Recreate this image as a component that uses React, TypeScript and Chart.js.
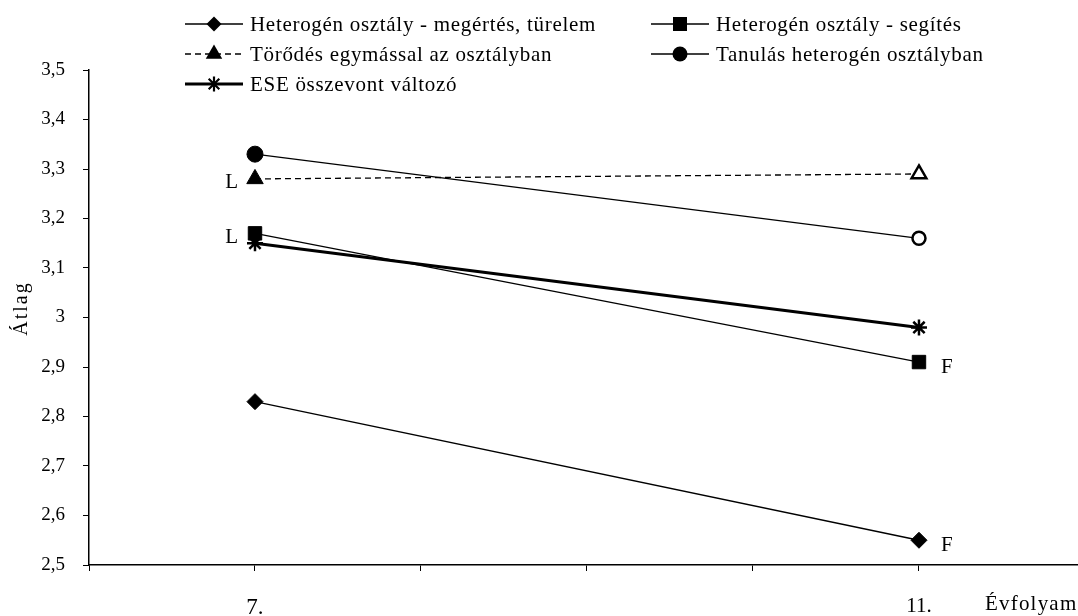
import React, { useEffect, useRef } from "react";
import { Chart, registerables } from "chart.js";

Chart.register(...registerables);

// ---- data ----
const grades = [7, 11];
const gradeLabels: Record<number, string> = { 7: "7.", 11: "11." };
const seriesNames = [
  "Heterogén osztály - megértés, türelem",
  "Heterogén osztály - segítés",
  "Törődés egymással az osztályban",
  "Tanulás heterogén osztályban",
  "ESE összevont változó",
];
const megertes = [2.83, 2.55];
const segites = [3.17, 2.91];
const torodes = [3.28, 3.29];
const tanulas = [3.33, 3.16];
const ese = [3.15, 2.98];
const noteSeries = [2, 1, 1, 0];
const noteIndex = [0, 0, 1, 1];
const noteText = ["L", "L", "F", "F"];
const yAxisTitle = "Átlag";
const xAxisTitle = "Évfolyam";

const FONT = "'Liberation Serif', 'Times New Roman', serif";

const toPoints = (arr: number[]) => grades.map((g, i) => ({ x: g, y: arr[i] }));

type Marker = "diamond" | "square" | "triangle" | "circle" | "star";

function drawMarker(ctx: CanvasRenderingContext2D, kind: Marker, x: number, y: number) {
  ctx.save();
  ctx.fillStyle = "#000";
  ctx.strokeStyle = "#000";
  ctx.beginPath();
  if (kind === "diamond") {
    const r = 7.5;
    ctx.moveTo(x, y - r);
    ctx.lineTo(x + r, y);
    ctx.lineTo(x, y + r);
    ctx.lineTo(x - r, y);
    ctx.closePath();
    ctx.fill();
  } else if (kind === "square") {
    ctx.rect(x - 7, y - 7, 14, 14);
    ctx.fill();
  } else if (kind === "triangle") {
    const r = 9.5;
    ctx.moveTo(x, y - r);
    ctx.lineTo(x + r * 0.866, y + r * 0.5);
    ctx.lineTo(x - r * 0.866, y + r * 0.5);
    ctx.closePath();
    ctx.fill();
  } else if (kind === "circle") {
    ctx.arc(x, y, 7.5, 0, Math.PI * 2);
    ctx.fill();
  } else {
    const r = 7.5;
    ctx.lineWidth = 2.2;
    ctx.moveTo(x - r, y);
    ctx.lineTo(x + r, y);
    ctx.moveTo(x, y - r);
    ctx.lineTo(x, y + r);
    const d = r * 0.707;
    ctx.moveTo(x - d, y - d);
    ctx.lineTo(x + d, y + d);
    ctx.moveTo(x - d, y + d);
    ctx.lineTo(x + d, y - d);
    ctx.stroke();
  }
  ctx.restore();
}

const legendItems: { name: string; marker: Marker; dash: number[]; width: number; col: number; row: number }[] = [
  { name: seriesNames[0], marker: "diamond", dash: [], width: 1.3, col: 0, row: 0 },
  { name: seriesNames[1], marker: "square", dash: [], width: 1.3, col: 1, row: 0 },
  { name: seriesNames[2], marker: "triangle", dash: [6, 4], width: 1.3, col: 0, row: 1 },
  { name: seriesNames[3], marker: "circle", dash: [], width: 1.3, col: 1, row: 1 },
  { name: seriesNames[4], marker: "star", dash: [], width: 3, col: 0, row: 2 },
];

const legendPlugin = {
  id: "customLegend",
  afterDraw(chart: any) {
    const ctx: any = chart.ctx;
    const colX = [185, 651];
    const rowY = [24, 54, 84];
    legendItems.forEach((it) => {
      const x0 = colX[it.col];
      const y = rowY[it.row];
      ctx.save();
      ctx.strokeStyle = "#000";
      ctx.lineWidth = it.width;
      ctx.setLineDash(it.dash);
      ctx.beginPath();
      ctx.moveTo(x0, y);
      ctx.lineTo(x0 + 58, y);
      ctx.stroke();
      ctx.setLineDash([]);
      ctx.restore();
      drawMarker(ctx, it.marker, x0 + 29, y);
      ctx.save();
      ctx.fillStyle = "#000";
      ctx.font = `21px ${FONT}`;
      ctx.letterSpacing = "0.7px";
      ctx.textBaseline = "middle";
      ctx.textAlign = "left";
      ctx.fillText(it.name, x0 + 65, y + 1);
      ctx.letterSpacing = "0px";
      ctx.restore();
    });
  },
};

const notesPlugin = {
  id: "notes",
  afterDatasetsDraw(chart: any) {
    const ctx: any = chart.ctx;
    const xs = chart.scales.x;
    const ys = chart.scales.y;
    const area = chart.chartArea;
    ctx.save();
    ctx.fillStyle = "#000";
    ctx.font = `21px ${FONT}`;
    ctx.textBaseline = "middle";
    noteText.forEach((t, k) => {
      const ds = chart.data.datasets[noteSeries[k]];
      const p = ds.data[noteIndex[k]];
      const px = xs.getPixelForValue(p.x);
      const py = ys.getPixelForValue(p.y);
      if (noteIndex[k] === 0) {
        ctx.textAlign = "right";
        ctx.fillText(t, px - 17, py + 4);
      } else {
        ctx.textAlign = "left";
        ctx.fillText(t, px + 22, py + 5);
      }
    });
    // x axis title at the right end, on the tick-label line
    ctx.textAlign = "left";
    ctx.textBaseline = "top";
    ctx.font = `21px ${FONT}`;
    ctx.letterSpacing = "1.2px";
    ctx.fillText(xAxisTitle, 985, area.bottom + 29);
    // y axis title, rotated
    ctx.font = `20px ${FONT}`;
    ctx.letterSpacing = "2px";
    ctx.translate(22, (area.top + area.bottom) / 2 - 9);
    ctx.rotate(-Math.PI / 2);
    ctx.textAlign = "center";
    ctx.textBaseline = "middle";
    ctx.fillText(yAxisTitle, 0, 0);
    ctx.letterSpacing = "0px";
    ctx.restore();
  },
};

export default function App() {
  const ref = useRef<HTMLCanvasElement>(null);
  useEffect(() => {
    if (!ref.current) return;
    const chart = new Chart(ref.current, {
      type: "line",
      data: {
        datasets: [
          {
            label: seriesNames[0],
            data: toPoints(megertes),
            borderColor: "#000",
            borderWidth: 1.3,
            pointStyle: "rectRot",
            pointRadius: 8,
            pointBackgroundColor: "#000",
            pointBorderColor: "#000",
            pointBorderWidth: 1,
          },
          {
            label: seriesNames[1],
            data: toPoints(segites),
            borderColor: "#000",
            borderWidth: 1.3,
            pointStyle: "rect",
            pointRadius: 9.5,
            pointBackgroundColor: "#000",
            pointBorderColor: "#000",
            pointBorderWidth: 1,
          },
          {
            label: seriesNames[2],
            data: toPoints(torodes),
            borderColor: "#000",
            borderWidth: 1.3,
            borderDash: [6, 4],
            pointStyle: "triangle",
            pointRadius: [9.5, 8.5],
            pointBackgroundColor: ["#000", "#fff"],
            pointBorderColor: "#000",
            pointBorderWidth: [1, 2.5],
          },
          {
            label: seriesNames[3],
            data: toPoints(tanulas),
            borderColor: "#000",
            borderWidth: 1.3,
            pointStyle: "circle",
            pointRadius: [8, 6.5],
            pointBackgroundColor: ["#000", "#fff"],
            pointBorderColor: "#000",
            pointBorderWidth: [1, 2.5],
          },
          {
            label: seriesNames[4],
            data: toPoints(ese),
            borderColor: "#000",
            borderWidth: 3,
            pointStyle: "star",
            pointRadius: 8,
            pointBackgroundColor: "#000",
            pointBorderColor: "#000",
            pointBorderWidth: 2.5,
          },
        ],
      },
      options: {
        responsive: false,
        animation: false,
        layout: { autoPadding: false, padding: { top: 70, left: 0, right: 0, bottom: 0 } },
        plugins: {
          legend: { display: false },
          tooltip: { enabled: false },
        },
        scales: {
          x: {
            type: "linear",
            min: 6,
            max: 11.958,
            afterBuildTicks: (scale: any) => {
              scale.ticks = [6, 7, 8, 9, 10, 11].map((v) => ({ value: v }));
            },
            afterFit: (scale: any) => {
              scale.height = 51;
              scale.paddingLeft = 0;
              scale.paddingRight = 0;
            },
            grid: {
              drawOnChartArea: false,
              drawTicks: true,
              tickLength: 6,
              color: "#000",
              lineWidth: 1,
            },
            border: { display: true, color: "#000", width: 1.5 },
            ticks: {
              autoSkip: false,
              maxRotation: 0,
              padding: 23,
              color: "#000",
              font: (c: any) => ({
                family: FONT,
                size: c.tick && c.tick.value === 7 ? 23 : 21,
              }),
              callback: (v: any) => gradeLabels[v as number] ?? "",
            },
          },
          y: {
            min: 2.5,
            max: 3.5,
            afterFit: (scale: any) => {
              scale.width = 89;
              scale.paddingTop = 0;
              scale.paddingBottom = 0;
            },
            grid: {
              drawOnChartArea: false,
              drawTicks: true,
              tickLength: 6,
              color: "#000",
              lineWidth: 1,
            },
            border: { display: true, color: "#000", width: 1.5 },
            ticks: {
              stepSize: 0.1,
              padding: 18,
              color: "#000",
              font: { family: FONT, size: 19 },
              callback: (v: any) => String(Number((v as number).toFixed(1))).replace(".", ","),
            },
          },
        },
      },
      plugins: [legendPlugin, notesPlugin],
    });
    return () => chart.destroy();
  }, []);
  return (
    <div style={{ position: "fixed", left: 0, top: 0, width: 1078, height: 616, background: "#fff" }}>
      <canvas ref={ref} width={1078} height={616} />
    </div>
  );
}
